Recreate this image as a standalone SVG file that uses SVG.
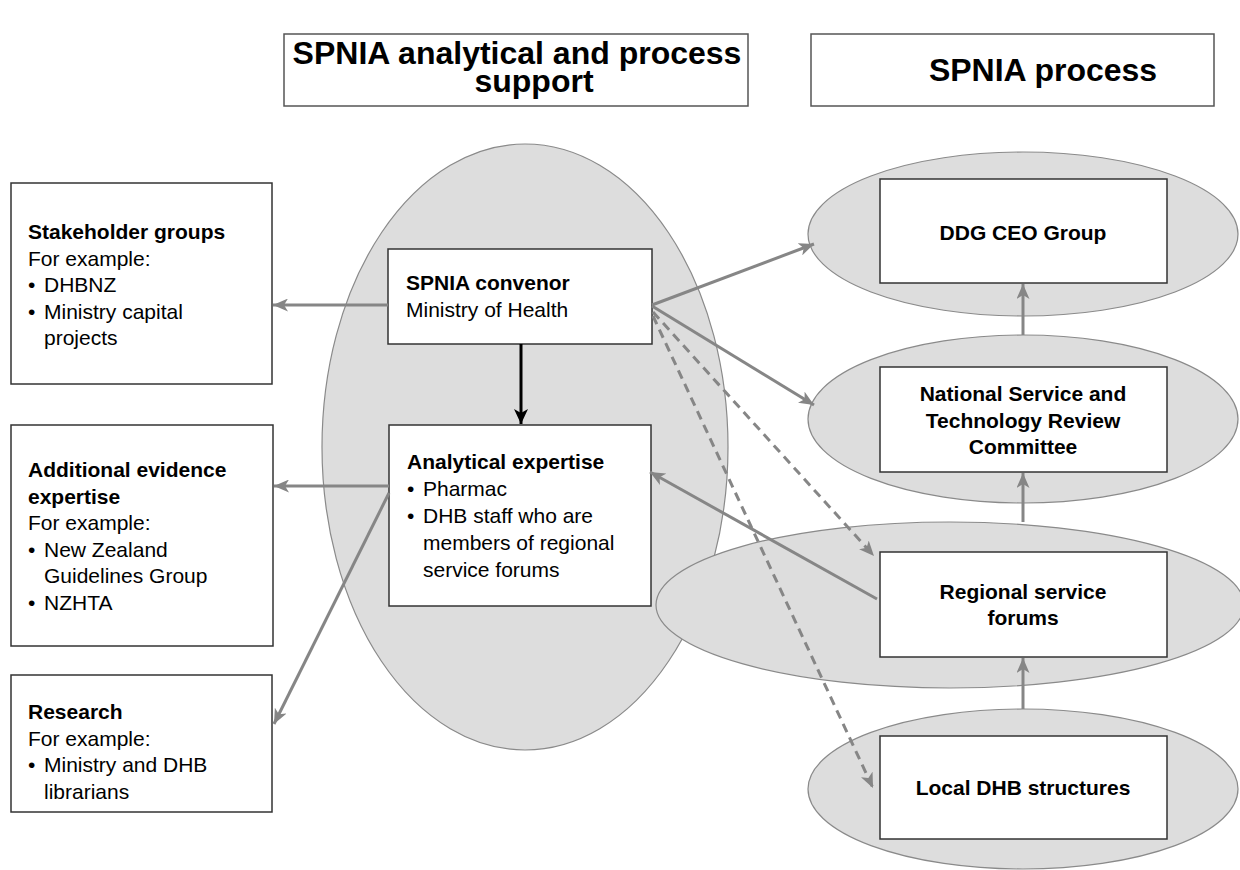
<svg xmlns="http://www.w3.org/2000/svg" width="1240" height="870" viewBox="0 0 1240 870">
<style>
text { font-family: "Liberation Sans", Arial, sans-serif; font-size: 21px; fill: #000; }
.b { font-weight: bold; }
.c { text-anchor: middle; }
.t { font-size: 32px; font-weight: bold; text-anchor: middle; }
.area { fill: #dddddd; stroke: #8a8a8a; stroke-width: 1.2; }
.box { fill: #ffffff; stroke: #333333; stroke-width: 1.5; }
.tbox { fill: #ffffff; stroke: #555555; stroke-width: 1.5; }
.g { fill: none; stroke: #868686; stroke-width: 3; marker-end: url(#ag); }
.d { fill: none; stroke: #868686; stroke-width: 3; stroke-dasharray: 9 6; marker-end: url(#ag); }
.k { fill: none; stroke: #000000; stroke-width: 3; marker-end: url(#ak); }
</style>
<defs>
<marker id="ag" markerUnits="userSpaceOnUse" markerWidth="15" markerHeight="13" refX="15" refY="6.5" orient="auto">
<path d="M0,0 L15,6.5 L0,13 L4,6.5 z" fill="#868686"/>
</marker>
<marker id="ak" markerUnits="userSpaceOnUse" markerWidth="15" markerHeight="14" refX="15" refY="7" orient="auto">
<path d="M0,0 L15,7 L0,14 L4,7 z" fill="#000000"/>
</marker>
</defs>
<rect width="1240" height="870" fill="#ffffff"/>

<g id="title-support">
<rect class="tbox" x="284" y="34" width="464" height="72"/>
<text class="t" x="517" y="64">SPNIA analytical and process</text>
<text class="t" x="534" y="92">support</text>
</g>
<g id="title-process">
<rect class="tbox" x="811" y="34" width="403" height="72"/>
<text class="t" x="1043" y="81">SPNIA process</text>
</g>

<g id="support-area">
<ellipse class="area" cx="525" cy="447" rx="203" ry="303"/>
</g>

<g id="ddg-ceo-group">
<ellipse class="area" cx="1023" cy="234" rx="215" ry="82"/>
<rect class="box" x="880" y="179" width="287" height="104"/>
<text class="b c" x="1023" y="240">DDG CEO Group</text>
</g>

<g id="nstrc">
<ellipse class="area" cx="1023" cy="419" rx="215" ry="84"/>
<rect class="box" x="880" y="367" width="287" height="105"/>
<text class="b c" x="1023" y="401">National Service and</text>
<text class="b c" x="1023" y="428">Technology Review</text>
<text class="b c" x="1023" y="454">Committee</text>
</g>

<g id="regional-service-forums">
<ellipse class="area" cx="950" cy="605" rx="294" ry="83"/>
<rect class="box" x="880" y="552" width="287" height="105"/>
<text class="b c" x="1023" y="599">Regional service</text>
<text class="b c" x="1023" y="625">forums</text>
</g>

<g id="local-dhb-structures">
<ellipse class="area" cx="1023" cy="789" rx="215" ry="80"/>
<rect class="box" x="880" y="736" width="287" height="103"/>
<text class="b c" x="1023" y="795">Local DHB structures</text>
</g>

<g id="stakeholder-groups">
<rect class="box" x="11" y="183" width="261" height="201"/>
<text class="b" x="28" y="239">Stakeholder groups</text>
<text x="28" y="265.5">For example:</text>
<text x="28" y="292">•</text><text x="44" y="292">DHBNZ</text>
<text x="28" y="318.5">•</text><text x="44" y="318.5">Ministry capital</text>
<text x="44" y="345">projects</text>
</g>

<g id="additional-evidence">
<rect class="box" x="11" y="425" width="262" height="221"/>
<text class="b" x="28" y="477">Additional evidence</text>
<text class="b" x="28" y="503.5">expertise</text>
<text x="28" y="530">For example:</text>
<text x="28" y="556.5">•</text><text x="44" y="556.5">New Zealand</text>
<text x="44" y="583">Guidelines Group</text>
<text x="28" y="609.5">•</text><text x="44" y="609.5">NZHTA</text>
</g>

<g id="research">
<rect class="box" x="11" y="675" width="261" height="137"/>
<text class="b" x="28" y="719">Research</text>
<text x="28" y="745.5">For example:</text>
<text x="28" y="772">•</text><text x="44" y="772">Ministry and DHB</text>
<text x="44" y="798.5">librarians</text>
</g>

<g id="spnia-convenor">
<rect class="box" x="388" y="249" width="264" height="95"/>
<text class="b" x="406" y="290">SPNIA convenor</text>
<text x="406" y="317">Ministry of Health</text>
</g>

<g id="analytical-expertise">
<rect class="box" x="389" y="425" width="262" height="181"/>
<text class="b" x="407" y="469">Analytical expertise</text>
<text x="407" y="496">•</text><text x="423" y="496">Pharmac</text>
<text x="407" y="523">•</text><text x="423" y="523">DHB staff who are</text>
<text x="423" y="550">members of regional</text>
<text x="423" y="577">service forums</text>
</g>

<g id="connectors">
<line class="g" x1="388" y1="305" x2="273" y2="305"/>
<line class="k" x1="521" y1="344" x2="521" y2="424"/>
<line class="g" x1="652" y1="305" x2="814" y2="244"/>
<line class="g" x1="652" y1="306" x2="814" y2="405"/>
<line class="d" x1="653" y1="312" x2="874" y2="556"/>
<line class="d" x1="653" y1="316" x2="873" y2="788"/>
<line class="g" x1="877" y1="599" x2="650" y2="472"/>
<line class="g" x1="389" y1="486" x2="274" y2="486"/>
<line class="g" x1="389" y1="493" x2="274" y2="724"/>
<line class="g" x1="1023" y1="335" x2="1023" y2="284"/>
<line class="g" x1="1023" y1="522" x2="1023" y2="473"/>
<line class="g" x1="1023" y1="709" x2="1023" y2="658"/>
</g>
</svg>
